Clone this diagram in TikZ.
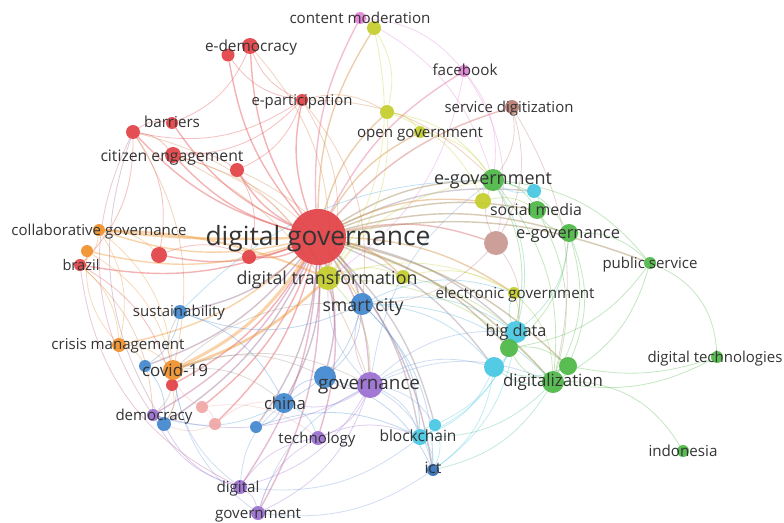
\documentclass[tikz,border=0pt]{standalone}
\usepackage{fontspec}
\setmainfont{Open Sans}
\usepackage{graphicx}
\pgfdeclarelayer{canvas}
\pgfdeclarelayer{links}
\pgfsetlayers{canvas,links,main}

\definecolor{cred}{RGB}{226,66,70}
\definecolor{corange}{RGB}{240,146,44}
\definecolor{cblue}{RGB}{66,136,208}
\definecolor{cdblue}{RGB}{52,112,186}
\definecolor{cpurple}{RGB}{155,110,210}
\definecolor{ccyan}{RGB}{72,200,226}
\definecolor{cgreen}{RGB}{78,184,70}
\definecolor{cyellow}{RGB}{196,206,44}
\definecolor{cpink}{RGB}{226,130,214}
\definecolor{cbrown}{RGB}{186,124,112}
\definecolor{crosy}{RGB}{202,152,146}
\definecolor{clpink}{RGB}{240,166,166}
\definecolor{labelgray}{RGB}{52,52,52}

\tikzset{
  dot/.style 2 args={circle,inner sep=0pt,outer sep=0pt,minimum size=#1pt,fill=#2,fill opacity=0.93},
  lbl/.style={anchor=mid,inner sep=0pt,text=labelgray,yshift=-3pt,font=\fontsize{13}{13}\selectfont},
  biglbl/.style={lbl,yshift=-1pt,font=\fontsize{16}{16}\selectfont},
  hugelbl/.style={lbl,yshift=-3pt,font=\fontsize{24}{24}\selectfont},
  lk/.style={draw=#1,line width=0.8pt,draw opacity=0.33,bend left=22},
  hub/.style={draw=#1,line width=1.4pt,draw opacity=0.4,bend left=15},
}
\newcommand\kwtext[2]{\resizebox{#1pt}{!}{#2}}

\begin{document}
\begin{tikzpicture}[x=1pt,y=-1pt]
\useasboundingbox (0,0) rectangle (784,522);
\begin{pgfonlayer}{canvas}
\fill[white] (0,0) rectangle (784,522);
\end{pgfonlayer}

% ---- keyword circles ----
% red cluster
\node[dot={56}{cred}] (dg) at (318,237) {};
\node[dot={16}{cred}] (edem1) at (250,46) {};
\node[dot={13}{cred}] (edem2) at (228,55) {};
\node[dot={12}{cred}] (epart) at (302,100) {};
\node[dot={12}{cred}] (barr) at (172,123) {};
\node[dot={14}{cred}] (barr2) at (133,132) {};
\node[dot={16}{cred}] (citeng) at (173,155) {};
\node[dot={14}{cred}] (red1) at (237,170) {};
\node[dot={16}{cred}] (red2) at (159,255) {};
\node[dot={14}{cred}] (red3) at (249,257) {};
\node[dot={12}{cred}] (brazil) at (80,265) {};
\node[dot={12}{cred}] (red4) at (172,385) {};
\node[dot={12}{clpink}] (pink1) at (202,407) {};
\node[dot={12}{clpink}] (pink2) at (215,424) {};
% orange cluster
\node[dot={12}{corange}] (collab) at (99,230) {};
\node[dot={12}{corange}] (orange2) at (87,251) {};
\node[dot={14}{corange}] (crisis) at (119,345) {};
\node[dot={20}{corange}] (covid) at (173,370) {};
% blue cluster
\node[dot={22}{cblue}] (smart) at (362,304) {};
\node[dot={14}{cblue}] (sustain) at (180,312) {};
\node[dot={12}{cblue}] (blue1) at (145,366) {};
\node[dot={20}{cblue}] (china) at (284,403) {};
\node[dot={22}{cblue}] (govblue) at (325,377) {};
\node[dot={14}{cblue}] (demblue) at (164,424) {};
\node[dot={12}{cblue}] (blue2) at (256,427) {};
\node[dot={12}{cdblue}] (ict) at (433,470) {};
% purple cluster
\node[dot={26}{cpurple}] (gov) at (370,385) {};
\node[dot={12}{cpurple}] (dem) at (153,415) {};
\node[dot={14}{cpurple}] (tech) at (318,438) {};
\node[dot={14}{cpurple}] (digital) at (240,487) {};
\node[dot={14}{cpurple}] (government) at (258,513) {};
% cyan cluster
\node[dot={22}{ccyan}] (bigdata) at (516,332) {};
\node[dot={20}{ccyan}] (cyan2) at (494,367) {};
\node[dot={14}{ccyan}] (cyan3) at (534,191) {};
\node[dot={16}{ccyan}] (block) at (420,437) {};
\node[dot={12}{ccyan}] (block2) at (435,425) {};
% green cluster
\node[dot={22}{cgreen}] (egov) at (493,180) {};
\node[dot={18}{cgreen}] (social) at (537,210) {};
\node[dot={18}{cgreen}] (egovn) at (569,233) {};
\node[dot={12}{cgreen}] (pubserv) at (650,263) {};
\node[dot={18}{cgreen}] (green1) at (509,348) {};
\node[dot={18}{cgreen}] (green2) at (568,366) {};
\node[dot={22}{cgreen}] (digitz) at (553,382) {};
\node[dot={12}{cgreen}] (digtech) at (717,357) {};
\node[dot={12}{cgreen}] (indo) at (683,451) {};
% yellow cluster
\node[dot={14}{cyellow}] (contmod) at (374,28) {};
\node[dot={14}{cyellow}] (opengov) at (387,112) {};
\node[dot={12}{cyellow}] (yel2) at (420,132) {};
\node[dot={16}{cyellow}] (yel3) at (483,201) {};
\node[dot={24}{cyellow}] (dtrans) at (328,278) {};
\node[dot={14}{cyellow}] (yel4) at (403,277) {};
\node[dot={12}{cyellow}] (egovt) at (514,293) {};
% pink and brown clusters
\node[dot={12}{cpink}] (contpink) at (360,18) {};
\node[dot={12}{cpink}] (facebook) at (464,71) {};
\node[dot={14}{cbrown}] (servdig) at (512,107) {};
\node[dot={24}{crosy}] (brown2) at (496,243) {};

% ---- co-occurrence links ----
\begin{pgfonlayer}{links}
% hub links from digital governance
\foreach \t in {edem1,edem2,epart,barr,barr2,citeng,red1,red2,red3,brazil,red4,pink1,pink2}
  \draw[hub=cred] (dg) to (\t);
\foreach \t in {collab,orange2,crisis}
  \draw[hub=corange] (dg) to (\t);
\draw[hub=corange,line width=3pt] (dg) to (covid);
\draw[hub=corange,line width=2.5pt] (dg) to[bend left=4] (collab);
\foreach \t in {smart,sustain,china,govblue,demblue,blue2,ict,blue1}
  \draw[hub=cred!50!cblue] (dg) to (\t);
\foreach \t in {gov,dem,tech,digital,government}
  \draw[hub=cred!50!cpurple] (dg) to (\t);
\foreach \t in {bigdata,cyan2,cyan3,block,block2}
  \draw[hub=cred!50!ccyan] (dg) to (\t);
\foreach \t in {egov,social,egovn,digitz,green1,green2,pubserv}
  \draw[hub=cred!50!cgreen] (dg) to (\t);
\foreach \t in {opengov,yel2,yel3,dtrans,yel4,egovt,contmod}
  \draw[hub=cred!50!cyellow] (dg) to (\t);
\foreach \t in {facebook,contpink}
  \draw[hub=cred!50!cpink] (dg) to (\t);
\foreach \t in {servdig,brown2}
  \draw[hub=cred!50!cbrown] (dg) to (\t);

% red cluster
\foreach \a/\b in {epart/edem1,epart/edem2,epart/barr2,epart/citeng,epart/red1,edem1/barr,
  barr2/barr,barr2/citeng,barr2/brazil,barr2/red2,citeng/red1,red2/red3,brazil/red4,red1/red3}
  \draw[lk=cred] (\a) to (\b);
\foreach \a/\b in {epart/dtrans,edem1/dtrans,citeng/dtrans,barr2/dtrans,citeng/smart,epart/smart,
  citeng/gov,epart/egov,epart/opengov,barr2/covid,brazil/dem,red4/demblue,red1/smart}
  \draw[lk=cred!60!cyellow] (\a) to (\b);
% wide arcs round the left edge
\draw[lk=cred!50!cpurple,bend right=30] (barr2) to (dem);
\draw[lk=cred!50!cpurple,bend right=28] (brazil) to (digital);
\draw[lk=cred!50!cblue,bend right=25] (barr2) to (demblue);
% orange cluster
\foreach \a/\b in {collab/covid,collab/crisis,collab/brazil,collab/red2,crisis/covid,crisis/orange2,
  crisis/blue1,brazil/crisis,covid/red4,orange2/covid}
  \draw[lk=corange] (\a) to (\b);
\draw[lk=corange,line width=2.5pt,draw opacity=0.45] (covid) to[bend right=12] (dtrans);
\draw[lk=corange,line width=2pt,draw opacity=0.4] (collab) to[bend left=10] (dtrans);
\foreach \a/\b in {covid/smart,covid/china,covid/sustain,covid/govblue,covid/gov,covid/dem,covid/demblue}
  \draw[lk=corange!50!cblue] (\a) to (\b);
% blue cluster
\foreach \a/\b in {smart/china,smart/govblue,smart/block,smart/ict,smart/sustain,china/govblue,
  china/blue2,sustain/blue1,sustain/china,govblue/ict,blue1/demblue,blue2/block}
  \draw[lk=cblue] (\a) to (\b);
\foreach \a/\b in {smart/bigdata,smart/egovt,smart/digitz,smart/cyan2,sustain/egov,china/tech,china/dem}
  \draw[lk=cblue!50!ccyan] (\a) to (\b);
% purple cluster
\foreach \a/\b in {gov/tech,gov/digital,gov/government,gov/dem,gov/china,gov/smart,gov/govblue,
  digital/government,digital/dem,digital/demblue,digital/tech,government/tech,dem/demblue,tech/block}
  \draw[lk=cpurple] (\a) to (\b);
\foreach \a/\b in {gov/block,gov/block2,gov/ict,gov/bigdata,gov/cyan2,gov/digitz,gov/dtrans,gov/egov,
  digital/covid,government/covid,digital/china,government/gov}
  \draw[lk=cpurple!50!ccyan] (\a) to (\b);
\draw[lk=cpurple!50!ccyan,bend left=20] (ict) to (government);
\draw[lk=cpurple!50!ccyan,bend left=22] (block) to (digital);
\foreach \a/\b in {pink1/covid,pink1/pink2,pink1/tech,pink2/china,pink2/demblue}
  \draw[lk=clpink] (\a) to (\b);
% cyan cluster
\foreach \a/\b in {bigdata/cyan2,bigdata/block,bigdata/block2,bigdata/ict,block/block2,block/ict,
  cyan2/block,cyan2/ict,cyan3/egov,cyan3/social,block2/ict}
  \draw[lk=ccyan] (\a) to (\b);
\foreach \a/\b in {bigdata/green1,bigdata/egovt,digitz/block,digitz/ict,digitz/cyan2,green2/cyan2,
  egov/bigdata,egovn/bigdata}
  \draw[lk=ccyan!50!cgreen] (\a) to (\b);
% green cluster
\foreach \a/\b in {egov/social,egov/egovn,egov/green1,egov/digitz,egov/pubserv,egovn/social,
  egovn/pubserv,egovn/digitz,egovn/green2,egovn/green1,pubserv/green1,pubserv/digitz,
  digitz/green1,digitz/green2,green1/green2,social/digitz}
  \draw[lk=cgreen] (\a) to (\b);
\draw[lk=cgreen,bend left=32] (pubserv) to (digtech);
\draw[lk=cgreen,bend left=18] (digtech) to (digitz);
\draw[lk=cgreen,bend left=14] (digtech) to (green2);
\draw[lk=cgreen,bend left=30] (digitz) to (indo);
% yellow cluster
\foreach \a/\b in {contmod/opengov,contmod/dtrans,opengov/yel2,opengov/yel3,opengov/dtrans,
  opengov/egov,dtrans/yel4,dtrans/egov,dtrans/egovt,yel3/egov,yel4/egovt,dtrans/smart,yel2/egov}
  \draw[lk=cyellow] (\a) to (\b);
\foreach \a/\b in {dtrans/bigdata,dtrans/digitz,dtrans/gov,yel3/social,egovt/digitz,egovt/green1}
  \draw[lk=cyellow!50!cgreen] (\a) to (\b);
% pink and brown clusters
\foreach \a/\b in {contpink/facebook,contpink/contmod,contpink/egov,facebook/egov,facebook/brown2,facebook/dtrans}
  \draw[lk=cpink] (\a) to (\b);
\foreach \a/\b in {servdig/brown2,servdig/egov,servdig/digitz,brown2/egov,brown2/bigdata,brown2/smart}
  \draw[lk=cbrown] (\a) to (\b);
\end{pgfonlayer}

% ---- labels ----
\node[hugelbl] (dg-l) at (318,237) {\kwtext{225}{digital governance}};
\node[lbl] (contmod-l) at (360,18) {\kwtext{141}{content moderation}};
\node[lbl] (edem-l) at (251,46) {\kwtext{92}{e-democracy}};
\node[lbl] (epart-l) at (302,100) {\kwtext{101}{e-participation}};
\node[lbl] (facebook-l) at (465,70) {\kwtext{65}{facebook}};
\node[lbl] (barr-l) at (172,122) {\kwtext{56}{barriers}};
\node[lbl] (servdig-l) at (509,107) {\kwtext{129}{service digitization}};
\node[lbl] (opengov-l) at (420,132) {\kwtext{126}{open government}};
\node[lbl] (citeng-l) at (172,156) {\kwtext{143}{citizen engagement}};
\node[biglbl] (egov-l) at (493,178) {\kwtext{118}{e-government}};
\node[lbl] (social-l) at (536,210) {\kwtext{92}{social media}};
\node[lbl] (collab-l) at (99,230) {\kwtext{175}{collaborative governance}};
\node[lbl] (egovn-l) at (568,233) {\kwtext{104}{e-governance}};
\node[lbl] (brazil-l) at (81,265) {\kwtext{37}{brazil}};
\node[lbl] (pubserv-l) at (650,263) {\kwtext{95}{public service}};
\node[biglbl] (dtrans-l) at (327,278) {\kwtext{181}{digital transformation}};
\node[lbl] (egovt-l) at (515,293) {\kwtext{159}{electronic government}};
\node[biglbl] (smart-l) at (363,305) {\kwtext{81}{smart city}};
\node[lbl] (sustain-l) at (179,311) {\kwtext{92}{sustainability}};
\node[lbl] (bigdata-l) at (516,331) {\kwtext{61}{big data}};
\node[lbl] (crisis-l) at (118,344) {\kwtext{133}{crisis management}};
\node[lbl] (digtech-l) at (715,357) {\kwtext{135}{digital technologies}};
\node[biglbl] (covid-l) at (175,370) {\kwtext{66}{covid-19}};
\node[biglbl] (digitz-l) at (553,380) {\kwtext{100}{digitalization}};
\node[biglbl] (gov-l) at (369,383) {\kwtext{102}{governance}};
\node[biglbl] (china-l) at (285,403) {\kwtext{42}{china}};
\node[lbl] (dem-l) at (154,415) {\kwtext{77}{democracy}};
\node[lbl] (tech-l) at (317,438) {\kwtext{77}{technology}};
\node[lbl] (block-l) at (418,436) {\kwtext{77}{blockchain}};
\node[lbl] (indo-l) at (683,451) {\kwtext{69}{indonesia}};
\node[lbl] (ict-l) at (433,468) {\kwtext{17}{ict}};
\node[lbl] (digital-l) at (238,487) {\kwtext{43}{digital}};
\node[lbl] (government-l) at (258,513) {\kwtext{86}{government}};
\end{tikzpicture}
\end{document}
